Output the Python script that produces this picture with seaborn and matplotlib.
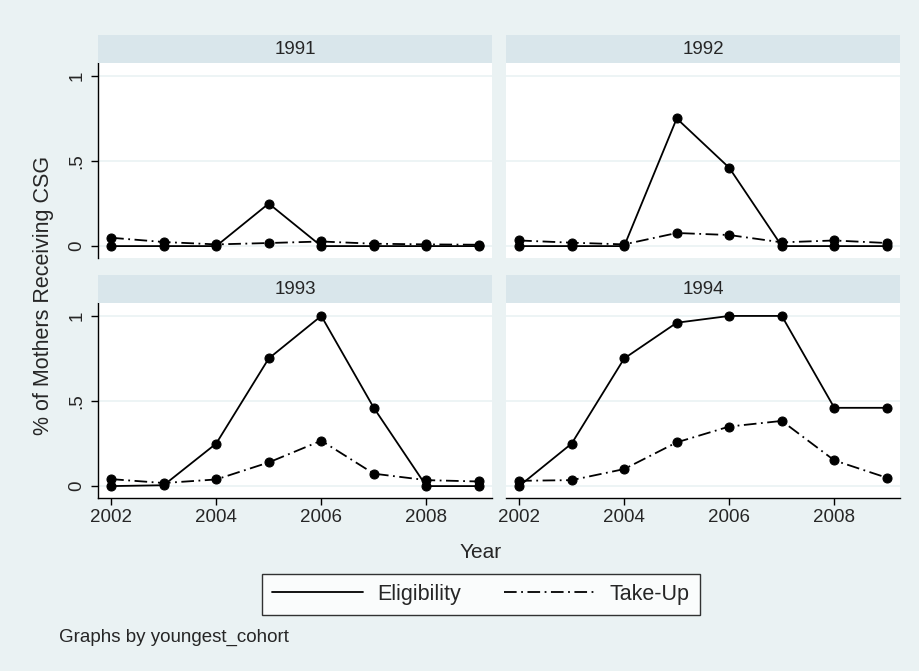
import matplotlib
matplotlib.use("Agg")
import matplotlib.pyplot as plt
from matplotlib.lines import Line2D
import seaborn as sns
import pandas as pd

sns.set_style("white")
plt.rcParams['font.family'] = ['Liberation Sans', 'DejaVu Sans']

years = [2002, 2003, 2004, 2005, 2006, 2007, 2008, 2009]
cohorts = ["1991", "1992", "1993", "1994"]
elig_1991 = [0, 0, 0, 0.25, 0, 0, 0, 0]
take_1991 = [0.049, 0.024, 0.010, 0.018, 0.027, 0.014, 0.010, 0.008]
elig_1992 = [0, 0, 0, 0.75, 0.46, 0, 0, 0]
take_1992 = [0.033, 0.020, 0.010, 0.077, 0.065, 0.022, 0.033, 0.018]
elig_1993 = [0, 0.005, 0.25, 0.75, 1.0, 0.46, 0, 0]
take_1993 = [0.041, 0.018, 0.039, 0.139, 0.267, 0.073, 0.035, 0.027]
elig_1994 = [0, 0.25, 0.75, 0.96, 1.0, 1.0, 0.46, 0.46]
take_1994 = [0.031, 0.035, 0.10, 0.257, 0.35, 0.383, 0.151, 0.049]
series_names = ["Eligibility", "Take-Up"]
x_ticks = [2002, 2004, 2006, 2008]
y_ticks = [0, 0.5, 1]
y_ticklabels = ["0", ".5", "1"]

elig = {"1991": elig_1991, "1992": elig_1992, "1993": elig_1993, "1994": elig_1994}
take = {"1991": take_1991, "1992": take_1992, "1993": take_1993, "1994": take_1994}
rows = []
for c in cohorts:
    for y, e, t in zip(years, elig[c], take[c]):
        rows.append({"cohort": c, "year": y, "series": "Eligibility", "value": e})
        rows.append({"cohort": c, "year": y, "series": "Take-Up", "value": t})
df = pd.DataFrame(rows)

BG = "#EAF2F3"
STRIP = "#D9E6EB"
GRID = "#EAF2F3"
W, H = 920, 671

fig = plt.figure(figsize=(W / 100, H / 100), dpi=100)
fig.patch.set_facecolor(BG)

dash_pattern = (7, 2.5, 1, 2.5)

def px_rect(x0, y0, x1, y1):
    return [x0 / W, 1 - y1 / H, (x1 - x0) / W, (y1 - y0) / H]

panels = {
    "1991": (98, 63, 492, 258, True, False),
    "1992": (506, 63, 900, 258, False, False),
    "1993": (98, 303, 492, 498, True, True),
    "1994": (506, 303, 900, 498, False, True),
}

for c in cohorts:
    x0, y0, x1, y1, left, bottom = panels[c]
    ax = fig.add_axes(px_rect(x0, y0, x1, y1))
    ax.set_facecolor("white")
    sub = df[df["cohort"] == c]
    sns.lineplot(data=sub, x="year", y="value", style="series",
                 dashes={"Eligibility": "", "Take-Up": dash_pattern},
                 markers={"Eligibility": "o", "Take-Up": "o"},
                 color="black", linewidth=1.3, markersize=6.5,
                 markeredgecolor="black", legend=False, ax=ax)
    ax.set_xlim(2001.75, 2009.25)
    ax.set_ylim(-0.07, 1.076)
    for yy in y_ticks:
        ax.axhline(yy, color=GRID, lw=1.2, zorder=0)
    for s in ax.spines.values():
        s.set_visible(False)
    ax.set_xlabel("")
    ax.set_ylabel("")
    ax.set_yticks(y_ticks)
    ax.set_xticks(x_ticks)
    if left:
        ax.spines["left"].set_visible(True)
        ax.spines["left"].set_color("black")
        ax.spines["left"].set_linewidth(1.0)
        ax.set_yticklabels(y_ticklabels, rotation=90, va="center", fontsize=13.5)
        ax.tick_params(axis="y", left=True, length=5, width=1, color="black", pad=4)
    else:
        ax.tick_params(axis="y", left=False, labelleft=False)
    if bottom:
        ax.spines["bottom"].set_visible(True)
        ax.spines["bottom"].set_color("black")
        ax.spines["bottom"].set_linewidth(1.0)
        ax.set_xticklabels([str(v) for v in x_ticks], fontsize=13.5)
        ax.tick_params(axis="x", bottom=True, length=5, width=1, color="black", pad=3)
    else:
        ax.tick_params(axis="x", bottom=False, labelbottom=False)
    # strip
    sax = fig.add_axes(px_rect(x0, y0 - 28, x1, y0))
    sax.set_facecolor(STRIP)
    sax.set_xticks([])
    sax.set_yticks([])
    for s in sax.spines.values():
        s.set_visible(False)
    sax.text(0.5, 0.5, c, ha="center", va="center", fontsize=13.5, transform=sax.transAxes)

fig.text(44 / W, 1 - 295 / H, "% of Mothers Receiving CSG", rotation=90,
         ha="center", va="center", fontsize=15.5)
fig.text(481 / W, 1 - 552 / H, "Year", ha="center", va="center", fontsize=15)
fig.text(59 / W, 1 - 637 / H, "Graphs by youngest_cohort", ha="left", va="center", fontsize=13.5)

handles = [Line2D([], [], color="black", lw=1.3, linestyle="-"),
           Line2D([], [], color="black", lw=1.3, linestyle=(0, dash_pattern))]
leg = fig.legend(handles, series_names, loc="center", ncol=2,
                 bbox_to_anchor=(481 / W, 1 - 594.5 / H), fontsize=15.5,
                 frameon=True, fancybox=False, edgecolor="black",
                 handlelength=4.2, columnspacing=2.0, handletextpad=0.7,
                 borderpad=0.45, borderaxespad=0)
leg.get_frame().set_linewidth(1.0)
leg.get_frame().set_facecolor("white")

fig.savefig("out.png", dpi=100, facecolor=BG)
